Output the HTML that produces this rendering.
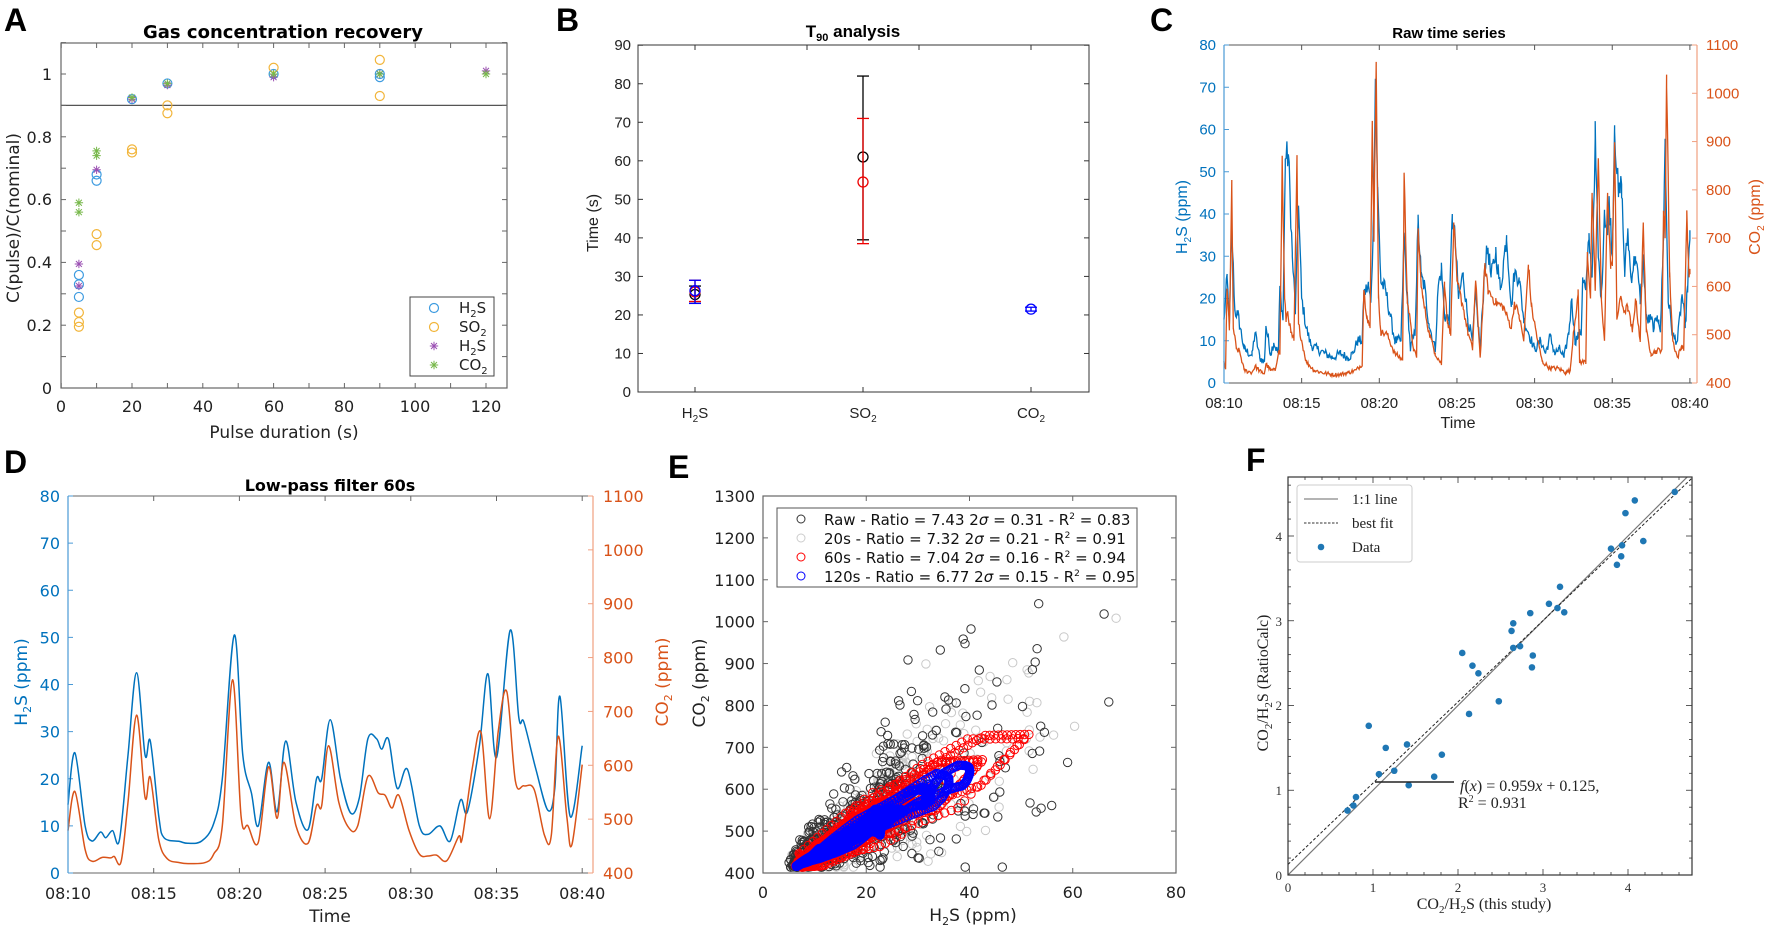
<!DOCTYPE html>
<html><head><meta charset="utf-8">
<style>
html,body{margin:0;padding:0;background:#fff;}
svg{display:block;}
.dj{font-family:"DejaVu Sans","Liberation Sans",sans-serif;}
.ls{font-family:"Liberation Sans",sans-serif;}
.sf{font-family:"Liberation Serif",serif;}
</style></head>
<body>
<svg id="s" width="1772" height="929" viewBox="0 0 1772 929" xmlns="http://www.w3.org/2000/svg">
<rect width="1772" height="929" fill="#fff"/>
<g font-family="Liberation Sans, sans-serif" font-weight="bold" font-size="32" fill="#000">
<text x="4" y="31">A</text>
<text x="556" y="31">B</text>
<text x="1150" y="31">C</text>
<text x="4" y="473">D</text>
<text x="668" y="478">E</text>
<text x="1246" y="471">F</text>
</g>

<!-- ============ A ============ -->
<g class="dj">
<rect x="61" y="43" width="446" height="345" fill="none" stroke="#666" stroke-width="1.2"/>
<line x1="61" y1="105.4" x2="507" y2="105.4" stroke="#555" stroke-width="1.3"/>
<g id="aTicks" stroke="#666" stroke-width="1"></g>
<text x="283" y="38" text-anchor="middle" font-weight="bold" font-size="18">Gas concentration recovery</text>
<g font-size="16" fill="#222" text-anchor="end">
<text x="52" y="394">0</text><text x="52" y="331">0.2</text><text x="52" y="268">0.4</text>
<text x="52" y="205">0.6</text><text x="52" y="143">0.8</text><text x="52" y="80">1</text>
</g>
<g font-size="16" fill="#222" text-anchor="middle">
<text x="61" y="412">0</text><text x="132" y="412">20</text><text x="203" y="412">40</text>
<text x="274" y="412">60</text><text x="344" y="412">80</text><text x="415" y="412">100</text><text x="486" y="412">120</text>
</g>
<text x="284" y="438" text-anchor="middle" font-size="17" fill="#222">Pulse duration (s)</text>
<text transform="translate(19,218) rotate(-90)" text-anchor="middle" font-size="17" fill="#222">C(pulse)/C(nominal)</text>
<g id="aData"></g>
<rect x="410" y="297" width="84" height="79" fill="#fff" stroke="#444" stroke-width="1"/>
<g id="aLeg"></g>
<g font-size="15" fill="#222">
<text x="459" y="313">H<tspan font-size="10" dy="4">2</tspan><tspan dy="-4">S</tspan></text>
<text x="459" y="332">SO<tspan font-size="10" dy="4">2</tspan></text>
<text x="459" y="351">H<tspan font-size="10" dy="4">2</tspan><tspan dy="-4">S</tspan></text>
<text x="459" y="370">CO<tspan font-size="10" dy="4">2</tspan></text>
</g>
</g>

<!-- ============ B ============ -->
<g class="ls">
<rect x="638" y="45" width="451" height="347" fill="none" stroke="#333" stroke-width="1"/>
<g id="bTicks" stroke="#333" stroke-width="1"></g>
<text x="853" y="37" text-anchor="middle" font-weight="bold" font-size="17">T<tspan font-size="11" dy="4">90</tspan><tspan dy="-4"> analysis</tspan></text>
<g font-size="15" fill="#222" text-anchor="end" id="bYl"></g>
<text transform="translate(598,223) rotate(-90)" text-anchor="middle" font-size="16" fill="#222">Time (s)</text>
<g font-size="15" fill="#222" text-anchor="middle">
<text x="695" y="418">H<tspan font-size="10" dy="4">2</tspan><tspan dy="-4">S</tspan></text>
<text x="863" y="418">SO<tspan font-size="10" dy="4">2</tspan></text>
<text x="1031" y="418">CO<tspan font-size="10" dy="4">2</tspan></text>
</g>
<g id="bData"></g>
</g>

<!-- ============ C ============ -->
<g class="ls">
<line x1="1224" y1="45" x2="1697" y2="45" stroke="#555"/>
<line x1="1224" y1="383" x2="1697" y2="383" stroke="#555"/>
<g id="cTicks"></g>
<text x="1449" y="38" text-anchor="middle" font-weight="bold" font-size="15">Raw time series</text>
<g id="cData"></g>
<line x1="1224" y1="45" x2="1224" y2="383" stroke="#4a9ad6" stroke-width="1.2"/>
<line x1="1697" y1="45" x2="1697" y2="383" stroke="#f0a080" stroke-width="1.2"/>
<text x="1458" y="428" text-anchor="middle" font-size="16" fill="#222">Time</text>
<text transform="translate(1187,217) rotate(-90)" text-anchor="middle" font-size="16" fill="#0072BD">H<tspan font-size="10" dy="4">2</tspan><tspan dy="-4">S (ppm)</tspan></text>
<text transform="translate(1760,217) rotate(-90)" text-anchor="middle" font-size="16" fill="#D95319">CO<tspan font-size="10" dy="4">2</tspan><tspan dy="-4"> (ppm)</tspan></text>
</g>

<!-- ============ D ============ -->
<g class="dj">
<line x1="68" y1="496" x2="593" y2="496" stroke="#666"/>
<line x1="68" y1="873" x2="593" y2="873" stroke="#666"/>
<g id="dTicks"></g>
<text x="330" y="491" text-anchor="middle" font-weight="bold" font-size="16">Low-pass filter 60s</text>
<g id="dData"></g>
<line x1="68" y1="496" x2="68" y2="873" stroke="#4a9ad6" stroke-width="1.2"/>
<line x1="593" y1="496" x2="593" y2="873" stroke="#f0a080" stroke-width="1.2"/>
<text x="330" y="922" text-anchor="middle" font-size="17" fill="#222">Time</text>
<text transform="translate(27,682) rotate(-90)" text-anchor="middle" font-size="17" fill="#0072BD">H<tspan font-size="11" dy="4">2</tspan><tspan dy="-4">S (ppm)</tspan></text>
<text transform="translate(668,682) rotate(-90)" text-anchor="middle" font-size="17" fill="#D95319">CO<tspan font-size="11" dy="4">2</tspan><tspan dy="-4"> (ppm)</tspan></text>
</g>

<!-- ============ E ============ -->
<g class="dj">
<g id="eData"></g>
<rect x="763" y="496" width="413" height="377" fill="none" stroke="#666" stroke-width="1.2"/>
<g id="eTicks"></g>
<text x="973" y="921" text-anchor="middle" font-size="17" fill="#222">H<tspan font-size="11" dy="4">2</tspan><tspan dy="-4">S (ppm)</tspan></text>
<text transform="translate(705,683) rotate(-90)" text-anchor="middle" font-size="17" fill="#222">CO<tspan font-size="11" dy="4">2</tspan><tspan dy="-4"> (ppm)</tspan></text>
<rect x="777" y="508" width="360" height="79" fill="#fff" stroke="#555" stroke-width="1"/>
<circle cx="801" cy="519" r="4" fill="none" stroke="#333"/>
<circle cx="801" cy="538" r="4" fill="none" stroke="#ccc"/>
<circle cx="801" cy="557" r="4" fill="none" stroke="#f00"/>
<circle cx="801" cy="576" r="4" fill="none" stroke="#00f"/>
<g font-size="15" fill="#111">
<text x="824" y="525">Raw - Ratio = 7.43 2<tspan font-style="italic">σ</tspan> = 0.31 - R<tspan font-size="9" dy="-6">2</tspan><tspan dy="6"> = 0.83</tspan></text>
<text x="824" y="544">20s - Ratio = 7.32 2<tspan font-style="italic">σ</tspan> = 0.21 - R<tspan font-size="9" dy="-6">2</tspan><tspan dy="6"> = 0.91</tspan></text>
<text x="824" y="563">60s - Ratio = 7.04 2<tspan font-style="italic">σ</tspan> = 0.16 - R<tspan font-size="9" dy="-6">2</tspan><tspan dy="6"> = 0.94</tspan></text>
<text x="824" y="582">120s - Ratio = 6.77 2<tspan font-style="italic">σ</tspan> = 0.15 - R<tspan font-size="9" dy="-6">2</tspan><tspan dy="6"> = 0.95</tspan></text>
</g>
</g>

<!-- ============ F ============ -->
<g class="sf">
<defs><clipPath id="fc"><rect x="1288" y="477" width="404" height="398"/></clipPath></defs>
<g id="fData" clip-path="url(#fc)"></g>
<rect x="1288" y="477" width="404" height="398" fill="none" stroke="#333" stroke-width="1.2"/>
<g id="fTicks" stroke="#333" stroke-width="0.8"></g>
<g font-size="13" fill="#333" text-anchor="middle">
<text x="1288" y="892">0</text><text x="1373" y="892">1</text><text x="1458" y="892">2</text><text x="1543" y="892">3</text><text x="1628" y="892">4</text>
</g>
<g font-size="13" fill="#333" text-anchor="end">
<text x="1282" y="880">0</text><text x="1282" y="795">1</text><text x="1282" y="710">2</text><text x="1282" y="626">3</text><text x="1282" y="541">4</text>
</g>
<text x="1484" y="909" text-anchor="middle" font-size="16" fill="#222">CO<tspan font-size="11" dy="4">2</tspan><tspan dy="-4">/H</tspan><tspan font-size="11" dy="4">2</tspan><tspan dy="-4">S (this study)</tspan></text>
<text transform="translate(1268,683) rotate(-90)" text-anchor="middle" font-size="16" fill="#222">CO<tspan font-size="11" dy="4">2</tspan><tspan dy="-4">/H</tspan><tspan font-size="11" dy="4">2</tspan><tspan dy="-4">S (RatioCalc)</tspan></text>
<rect x="1297" y="485" width="115" height="77" rx="3" fill="#fff" stroke="#ccc" stroke-width="1"/>
<line x1="1304" y1="499" x2="1338" y2="499" stroke="#888" stroke-width="1.3"/>
<line x1="1304" y1="523" x2="1338" y2="523" stroke="#333" stroke-width="1" stroke-dasharray="2.5,1.5"/>
<circle cx="1321" cy="547" r="3.3" fill="#1f77b4"/>
<g font-size="15" fill="#222">
<text x="1352" y="504">1:1 line</text>
<text x="1352" y="528">best fit</text>
<text x="1352" y="552">Data</text>
</g>
<line x1="1375" y1="782" x2="1454" y2="782" stroke="#222" stroke-width="1.5"/>
<g font-size="16" fill="#222">
<text x="1460" y="791"><tspan font-style="italic">f</tspan>(<tspan font-style="italic">x</tspan>) = 0.959<tspan font-style="italic">x</tspan> + 0.125,</text>
<text x="1458" y="808">R<tspan font-size="10" dy="-6">2</tspan><tspan dy="6"> = 0.931</tspan></text>
</g>
</g>
</svg>
<script>
(function(){
var NS="http://www.w3.org/2000/svg";
function el(p,tag,a){var e=document.createElementNS(NS,tag);for(var k in a)e.setAttribute(k,a[k]);document.getElementById(p).appendChild(e);return e;}
function txt(p,x,y,s,a){var e=el(p,'text',Object.assign({x:x,y:y},a||{}));e.textContent=s;return e;}
var seed=12345;function rnd(){seed=(seed*1103515245+12345)%2147483648;return seed/2147483648;}
function gauss(){var u=rnd()||1e-6,v=rnd();return Math.sqrt(-2*Math.log(u))*Math.cos(6.2832*v);}
function star(p,x,y,c){var r=4.2;var d='';for(var i=0;i<4;i++){var a=i*Math.PI/4;d+='M'+(x-r*Math.cos(a))+' '+(y-r*Math.sin(a))+'L'+(x+r*Math.cos(a))+' '+(y+r*Math.sin(a));}el(p,'path',{d:d,stroke:c,'stroke-width':1,fill:'none'});}
var xA=function(v){return 61.2+v*3.54},yA=function(v){return 388-v*314};
for(var v=0;v<=125;v+=10){el('aTicks','line',{x1:xA(v),y1:388,x2:xA(v),y2:383});el('aTicks','line',{x1:xA(v),y1:43,x2:xA(v),y2:48});}
for(var v=0;v<=1.1;v+=0.1){el('aTicks','line',{x1:61,y1:yA(v),x2:66,y2:yA(v)});el('aTicks','line',{x1:507,y1:yA(v),x2:502,y2:yA(v)});}
var cB='#3d9be0',cO='#f2b53a',cP='#9b4fb3',cG='#77b84a';
var h1=[[5,.36],[5,.33],[5,.29],[10,.68],[10,.66],[20,.92],[30,.97],[60,1],[90,1.0],[90,.99]];
var so=[[5,.24],[5,.21],[5,.195],[10,.49],[10,.455],[20,.76],[20,.75],[30,.9],[30,.875],[60,1.02],[90,1.045],[90,.93]];
var h2=[[5,.395],[5,.325],[10,.695],[20,.92],[30,.965],[60,.99],[90,1.0],[120,1.01]];
var co=[[5,.59],[5,.56],[10,.755],[10,.74],[20,.925],[30,.97],[60,1.0],[90,1.0],[120,1.0]];
h1.forEach(function(p){el('aData','circle',{cx:xA(p[0]),cy:yA(p[1]),r:4.5,fill:'none',stroke:cB,'stroke-width':1.2})});
so.forEach(function(p){el('aData','circle',{cx:xA(p[0]),cy:yA(p[1]),r:4.5,fill:'none',stroke:cO,'stroke-width':1.2})});
h2.forEach(function(p){star('aData',xA(p[0]),yA(p[1]),cP)});
co.forEach(function(p){star('aData',xA(p[0]),yA(p[1]),cG)});
el('aLeg','circle',{cx:434,cy:308,r:4.5,fill:'none',stroke:cB,'stroke-width':1.2});
el('aLeg','circle',{cx:434,cy:327,r:4.5,fill:'none',stroke:cO,'stroke-width':1.2});
star('aLeg',434,346,cP);star('aLeg',434,365,cG);
var yB=function(v){return 392-v*3.853};
for(var v=0;v<=90;v+=10){txt('bYl',631,yB(v)+5,String(v));el('bTicks','line',{x1:638,y1:yB(v),x2:643,y2:yB(v)});el('bTicks','line',{x1:1089,y1:yB(v),x2:1084,y2:yB(v)});}
[695,863,1031].forEach(function(x){el('bTicks','line',{x1:x,y1:392,x2:x,y2:387});});
[695,807,919,1031].forEach(function(x){el('bTicks','line',{x1:x,y1:45,x2:x,y2:50});});
function eb(x,lo,hi,m,c){el('bData','line',{x1:x,y1:yB(lo),x2:x,y2:yB(hi),stroke:c,'stroke-width':1.3});
 [lo,hi].forEach(function(v){el('bData','line',{x1:x-6,y1:yB(v),x2:x+6,y2:yB(v),stroke:c,'stroke-width':1.3})});
 el('bData','circle',{cx:x,cy:yB(m),r:5,fill:'none',stroke:c,'stroke-width':1.3});}
eb(863,39.5,82,61,'#000');eb(863,38.5,71,54.5,'#e00');
eb(695,23,27.5,25.3,'#000');eb(695,23.5,29,26,'#e00');eb(695,23,29,26.3,'#00f');
eb(1031,21,22,21.5,'#00f');
var HR=[[0,15],[0.2,25],[0.35,14],[0.5,37],[0.7,17],[0.9,16],[1.3,8],[1.8,6.5],[2.0,12],[2.3,6],[2.6,5],[2.7,13.5],[3.0,7],[3.2,9.5],[3.5,7],[3.6,22.5],[3.8,15],[3.95,53],[4.15,54],[4.4,30],[4.6,17],[4.8,42],[5.0,20],[5.3,13],[5.6,9],[6.0,8],[6.5,7],[7.0,6],[7.5,7],[8.0,6],[8.3,7],[8.6,10],[8.9,10],[9.0,21],[9.3,23],[9.45,19],[9.6,35],[9.75,72],[9.9,45],[10.1,24],[10.4,22],[10.7,16],[11.0,10],[11.4,10],[11.6,35],[11.8,20],[12.0,8],[12.3,12],[12.5,38],[12.7,25],[12.9,23],[13.2,14],[13.6,8],[13.8,23],[14.0,27],[14.2,16],[14.5,15],[14.7,40],[14.9,33],[15.1,20],[15.4,26],[15.7,15],[16.0,10],[16.2,21],[16.5,8],[16.8,28],[17.0,32],[17.2,25],[17.5,31],[17.8,22],[18.2,35],[18.5,18],[18.7,26],[19.0,25],[19.3,15],[19.6,12],[20.0,8],[20.4,10],[20.7,7],[21.0,11],[21.3,7],[21.6,8],[21.9,6],[22.2,12],[22.4,20],[22.6,10],[23.0,12],[23.1,25],[23.3,22],[23.5,34],[23.7,25],[23.9,58],[24.1,30],[24.3,20],[24.5,41],[24.7,35],[24.8,44],[25.0,30],[25.15,61],[25.4,44],[25.6,47],[25.8,26],[26.0,36],[26.2,25],[26.5,30],[26.8,20],[27.0,29],[27.2,15],[27.5,15],[27.7,13],[27.9,16],[28.0,15],[28.1,12],[28.3,35],[28.4,57],[28.6,20],[28.9,11],[29.2,10],[29.5,21],[29.7,13],[29.85,23],[30,34]];
var CR=[[0,5],[0.1,3.5],[0.2,22],[0.35,13],[0.5,46],[0.6,13],[0.8,8],[1.0,7.5],[1.3,3],[1.8,2.5],[2.0,4],[2.4,2.5],[2.6,2.3],[2.7,4.5],[3.0,3],[3.3,3],[3.5,7.5],[3.6,7],[3.75,53],[3.9,20],[4.0,15],[4.1,17],[4.3,12],[4.5,10],[4.7,52],[4.8,14],[5.0,10],[5.3,5],[5.8,3],[6.5,2.3],[7.0,2],[7.5,2],[8.0,2.5],[8.5,3],[8.9,4.5],[9.0,22],[9.2,16],[9.4,13],[9.55,61],[9.65,35],[9.8,76],[9.95,20],[10.1,12],[10.5,11.5],[11.0,7],[11.5,5.5],[11.6,49],[11.8,20],[12.2,8],[12.4,6],[12.5,36],[12.65,26],[12.8,20],[13.2,12],[13.6,7],[14.0,4.5],[14.2,24],[14.4,14],[14.6,12],[14.8,38],[15.0,24],[15.4,18],[15.7,12],[16.0,8],[16.2,24],[16.5,6],[16.8,28],[17.0,22],[17.5,19],[18.0,18],[18.5,13],[18.7,19],[19.0,16],[19.3,10],[19.6,28],[19.8,18],[20.2,10],[20.5,5],[21.0,3.5],[21.5,3.5],[22.0,2.5],[22.3,3],[22.5,12],[22.8,21],[22.9,5],[23.3,5],[23.4,31],[23.6,20],[23.7,45],[23.9,22],[24.1,53],[24.3,20],[24.5,10],[24.7,45],[24.9,27],[25.0,29],[25.15,57],[25.3,15],[25.5,20],[25.8,17],[26.0,18],[26.3,12],[26.5,20],[26.8,10],[27.0,38],[27.2,12],[27.5,7],[27.8,7.5],[28.2,8],[28.3,40],[28.4,35],[28.5,73],[28.7,25],[28.9,10],[29.2,6],[29.5,9],[29.6,8],[29.8,39],[29.95,25],[30,27]];
var HD=[[0,14.5],[0.4,25.5],[1.0,10],[1.4,6.8],[1.9,8.7],[2.2,7.5],[2.6,9],[3.0,7],[3.5,25],[4.0,42.5],[4.5,25],[4.8,28],[5.3,12],[5.6,7.5],[6.5,6.7],[7.0,6.3],[7.8,6.8],[8.5,10.5],[9.0,20],[9.7,50.5],[10.2,25],[10.7,17],[11.1,10],[11.7,23.5],[12.2,13],[12.7,28],[13.3,15],[14.0,9.2],[14.5,20],[14.8,20],[15.3,32.5],[15.9,20],[16.5,12.7],[17.0,16],[17.5,28.5],[18.0,28.5],[18.3,26.3],[18.7,28.4],[19.2,18],[19.8,22],[20.5,10],[21.0,8.2],[21.7,10],[22.3,6.8],[22.9,15.5],[23.3,13],[24.0,27],[24.5,42.3],[25.0,24.5],[25.8,51.5],[26.3,33],[26.6,32],[27.3,22],[28.0,13.3],[28.4,18],[28.7,37.5],[29.3,12],[30.0,27]];
var CD=[[0,9],[0.4,17.3],[1.0,5],[1.4,2.5],[2,3.3],[2.5,3.2],[2.7,3.5],[3.1,2.4],[3.5,15],[4.0,33.5],[4.5,16],[4.8,20.3],[5.3,7],[5.8,3],[6.5,2.2],[7.0,2],[8.0,2.2],[8.5,4],[9.0,10],[9.6,41],[10.1,12],[10.5,10],[11.1,6.5],[11.7,22.5],[12.2,11.6],[12.6,23.5],[13.3,10],[14.0,6.3],[14.5,14.3],[14.8,14.3],[15.2,27],[15.8,15],[16.4,9.5],[16.9,10],[17.5,20.5],[18.1,17],[18.5,16.5],[18.9,13.8],[19.3,16.5],[19.9,9],[20.5,4],[21.0,3.6],[21.5,3.8],[22.1,2.6],[22.8,7.8],[23.0,7.3],[23.6,22.5],[24.1,29.8],[24.6,11.5],[25.1,30],[25.6,38.5],[26.1,19.5],[26.6,18.5],[27.2,17.7],[27.8,8],[28.2,8],[28.6,29],[29.1,12],[29.4,6],[30.0,23]];
function interp(kp,t){t=Math.min(30,Math.max(0,t));for(var i=1;i<kp.length;i++){if(t<=kp[i][0]){var a=kp[i-1],b=kp[i];var f=(b[0]-a[0])?(t-a[0])/(b[0]-a[0]):0;return a[1]+f*(b[1]-a[1]);}}return kp[kp.length-1][1];}
function sample(kp,dt,nz){var o=[];for(var t=0;t<=30.0001;t+=dt){var v=interp(kp,t);v+=(rnd()-0.5)*(nz*(0.8+v*0.08));o.push([t,Math.max(v,0.5)]);}
 kp.forEach(function(p){o.push([p[0],p[1]])});o.sort(function(a,b){return a[0]-b[0]});return o;}
function lpath(pts,fx,fy){return pts.map(function(p,i){return (i?'L':'M')+fx(p[0]).toFixed(1)+' '+fy(p[1]).toFixed(1)}).join('');}
function cpath(pts,fx,fy){var P=pts.map(function(p){return [fx(p[0]),fy(p[1])]});var d='M'+P[0][0]+' '+P[0][1];
 for(var i=0;i<P.length-1;i++){var p0=P[i-1]||P[i],p1=P[i],p2=P[i+1],p3=P[i+2]||p2;
 d+='C'+(p1[0]+(p2[0]-p0[0])/6).toFixed(1)+' '+(p1[1]+(p2[1]-p0[1])/6).toFixed(1)+' '+(p2[0]-(p3[0]-p1[0])/6).toFixed(1)+' '+(p2[1]-(p3[1]-p1[1])/6).toFixed(1)+' '+p2[0].toFixed(1)+' '+p2[1].toFixed(1);}return d;}
var xC=function(t){return 1224+t*15.53},yC=function(v){return 383-v*4.225};
var hs=sample(HR,0.05,1.6), cs=sample(CR,0.05,1.0);
el('cData','path',{d:lpath(hs,xC,yC),fill:'none',stroke:'#0072BD','stroke-width':1.3});
el('cData','path',{d:lpath(cs,xC,yC),fill:'none',stroke:'#D95319','stroke-width':1.3});
for(var v=0;v<=80;v+=10){txt('cTicks',1216,yC(v)+5,String(v),{'text-anchor':'end','font-size':15,fill:'#0072BD'});el('cTicks','line',{x1:1224,y1:yC(v),x2:1229,y2:yC(v),stroke:'#4a9ad6'});}
for(var p=400;p<=1100;p+=100){var y=383-(p-400)/700*338;txt('cTicks',1706,y+5,String(p),{'font-size':15,fill:'#D95319'});el('cTicks','line',{x1:1697,y1:y,x2:1692,y2:y,stroke:'#f0a080'});}
['08:10','08:15','08:20','08:25','08:30','08:35','08:40'].forEach(function(s,i){var x=xC(i*5);txt('cTicks',x,408,s,{'text-anchor':'middle','font-size':15,fill:'#222'});el('cTicks','line',{x1:x,y1:383,x2:x,y2:378,stroke:'#555'});el('cTicks','line',{x1:x,y1:45,x2:x,y2:50,stroke:'#555'});});
var xD=function(t){return 68+t*17.14},yD=function(v){return 873-v*4.7125};
el('dData','path',{d:cpath(HD,xD,yD),fill:'none',stroke:'#0072BD','stroke-width':1.5});
el('dData','path',{d:cpath(CD,xD,yD),fill:'none',stroke:'#D95319','stroke-width':1.5});
for(var v=0;v<=80;v+=10){txt('dTicks',60,yD(v)+6,String(v),{'text-anchor':'end','font-size':16,fill:'#0072BD'});el('dTicks','line',{x1:68,y1:yD(v),x2:73,y2:yD(v),stroke:'#4a9ad6'});}
for(var p=400;p<=1100;p+=100){var y=873-(p-400)/700*377;txt('dTicks',603,y+6,String(p),{'font-size':16,fill:'#D95319'});el('dTicks','line',{x1:593,y1:y,x2:588,y2:y,stroke:'#f0a080'});}
['08:10','08:15','08:20','08:25','08:30','08:35','08:40'].forEach(function(s,i){var x=xD(i*5);txt('dTicks',x,899,s,{'text-anchor':'middle','font-size':16,fill:'#222'});el('dTicks','line',{x1:x,y1:873,x2:x,y2:868,stroke:'#666'});el('dTicks','line',{x1:x,y1:496,x2:x,y2:501,stroke:'#666'});});
var xE=function(h){return 763+h*5.1625},yE=function(c){return 873-(c-400)*0.4189};
for(var v=400;v<=1300;v+=100){txt('eTicks',755,yE(v)+6,String(v),{'text-anchor':'end','font-size':16,fill:'#222'});el('eTicks','line',{x1:763,y1:yE(v),x2:768,y2:yE(v),stroke:'#666'});el('eTicks','line',{x1:1176,y1:yE(v),x2:1171,y2:yE(v),stroke:'#666'});}
for(var v=0;v<=80;v+=20){txt('eTicks',xE(v),898,String(v),{'text-anchor':'middle','font-size':16,fill:'#222'});el('eTicks','line',{x1:xE(v),y1:873,x2:xE(v),y2:868,stroke:'#666'});el('eTicks','line',{x1:xE(v),y1:496,x2:xE(v),y2:501,stroke:'#666'});}
function circ(h,c,col){if(h>79||c>1290||c<405)return;el('eData','circle',{cx:xE(h).toFixed(1),cy:yE(Math.max(c,414)).toFixed(1),r:4.2,fill:'none',stroke:col,'stroke-width':1});}
// gray 20s
for(var t=0;t<=30;t+=0.05){var h=interp(HR,t)*0.85+interp(HD,t)*0.15;var d=interp(HR,t+0.15)-interp(HR,t-0.15);var c=418+7.3*(h-5.5)+d*2+gauss()*(5+2.6*(h-5));circ(h,c,'#c8c8c8');}
// raw black
for(var t=0;t<=30;t+=0.055){var h=interp(HR,t)+(rnd()-0.5)*3;if(h<5)h=5+rnd();var c=420+7.4*(h-5.5)+gauss()*(10+4.6*(h-5));circ(h,c,'#333');}
// red 60s
for(var t=0;t<=30;t+=0.025){var h=interp(HD,t);var d=interp(HD,t+0.25)-interp(HD,t-0.25);var c=415+7.0*(h-6)+d*3.2;circ(h,c,'#f00');}
// blue 120s
for(var t=0;t<=30;t+=0.02){var s=0,n=0;for(var k=-0.5;k<=0.5;k+=0.1){s+=interp(HD,t+k);n++;}var h=s/n*0.95+0.3;if(h>44.5)h=44.5;var d=interp(HD,t+0.3)-interp(HD,t-0.3);var c=413+6.8*(h-6)+d*1.4;circ(h,c,'#00f');}
var xF=function(v){return 1288+v*85},yF=function(v){return 875-v*84.75};
for(var v=0;v<=4.7;v+=0.2){var M=Math.abs(v-Math.round(v))<0.01;var L=M?6:3;
 el('fTicks','line',{x1:xF(v),y1:875,x2:xF(v),y2:875-L});el('fTicks','line',{x1:xF(v),y1:477,x2:xF(v),y2:477+L});
 el('fTicks','line',{x1:1288,y1:yF(v),x2:1288+L,y2:yF(v)});el('fTicks','line',{x1:1692,y1:yF(v),x2:1692-L,y2:yF(v)});}
el('fData','line',{x1:xF(0),y1:yF(0),x2:xF(4.8),y2:yF(4.8),stroke:'#777','stroke-width':1.2});
el('fData','line',{x1:xF(0),y1:yF(0.125),x2:xF(4.8),y2:yF(0.959*4.8+0.125),stroke:'#222','stroke-width':1,'stroke-dasharray':'3,2'});
[[0.7,0.76],[0.77,0.82],[0.8,0.92],[0.95,1.76],[1.07,1.19],[1.15,1.5],[1.25,1.23],[1.4,1.54],[1.42,1.06],[1.72,1.16],[1.81,1.42],[2.05,2.62],[2.13,1.9],[2.17,2.47],[2.24,2.38],[2.48,2.05],[2.63,2.88],[2.65,2.97],[2.65,2.68],[2.73,2.7],[2.85,3.09],[2.87,2.45],[2.88,2.59],[3.07,3.2],[3.17,3.15],[3.2,3.4],[3.25,3.1],[3.8,3.85],[3.87,3.66],[3.92,3.76],[3.93,3.89],[3.97,4.27],[4.08,4.42],[4.18,3.94],[4.55,4.52]].forEach(function(p){el('fData','circle',{cx:xF(p[0]),cy:yF(p[1]),r:3.3,fill:'#1f77b4'});});
})();
</script>
</body></html>
